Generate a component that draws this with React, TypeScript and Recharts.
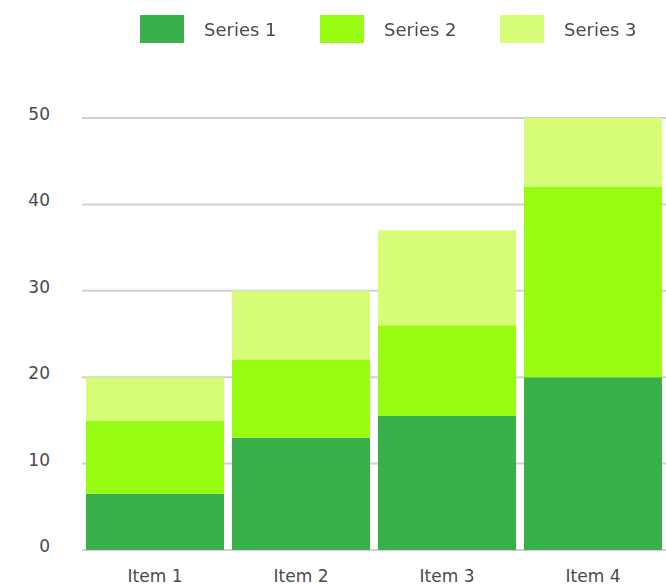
import React from 'react';
import { BarChart, Bar, XAxis, YAxis, CartesianGrid } from 'recharts';

const categories = ['Item 1', 'Item 2', 'Item 3', 'Item 4'];
const series1 = [6.5, 13, 15.5, 20];
const series2 = [8.5, 9, 10.5, 22];
const series3 = [5, 8, 11, 8];
const yTicks = [0, 10, 20, 30, 40, 50];

const seriesMeta = [
  { key: 's1', name: 'Series 1', color: '#39b04a' },
  { key: 's2', name: 'Series 2', color: '#98fc12' },
  { key: 's3', name: 'Series 3', color: '#d6fc78' },
];

const data = categories.map((name, i) => ({
  name,
  s1: series1[i],
  s2: series2[i],
  s3: series3[i],
}));

const font = '"DejaVu Sans", sans-serif';
const textColor = '#4a4a4a';

const ChartLegend: React.FC = () => (
  <div
    style={{
      position: 'absolute',
      top: 15,
      left: 140,
      display: 'flex',
      alignItems: 'center',
      fontFamily: font,
      fontSize: 18,
      color: textColor,
    }}
  >
    {seriesMeta.map(s => (
      <div key={s.key} style={{ display: 'flex', alignItems: 'center', width: 180 }}>
        <div style={{ width: 44, height: 28, background: s.color, marginRight: 20 }} />
        <span>{s.name}</span>
      </div>
    ))}
  </div>
);

const App: React.FC = () => {
  return (
    <div style={{ position: 'fixed', left: 0, top: 0, width: 666, height: 588, background: '#fff' }}>
      <BarChart
        width={666}
        height={588}
        data={data}
        margin={{ top: 118, right: 0, bottom: 0, left: 0 }}
        barCategoryGap={4}
      >
        <CartesianGrid vertical={false} stroke="#d0d0d0" strokeWidth={2} />
        <XAxis
          dataKey="name"
          height={38}
          axisLine={false}
          tickLine={false}
          tickMargin={14}
          tick={{ fill: textColor, fontSize: 17, fontFamily: font }}
        />
        <YAxis
          width={82}
          domain={[0, 50]}
          ticks={yTicks}
          axisLine={false}
          tickLine={false}
          tickSize={0}
          tickMargin={32}
          tick={{ fill: textColor, fontSize: 17, fontFamily: font, dy: -4 }}
        />
        {seriesMeta.map(s => (
          <Bar key={s.key} dataKey={s.key} name={s.name} stackId="a" fill={s.color} isAnimationActive={false} />
        ))}
      </BarChart>
      <ChartLegend />
    </div>
  );
};

export default App;
